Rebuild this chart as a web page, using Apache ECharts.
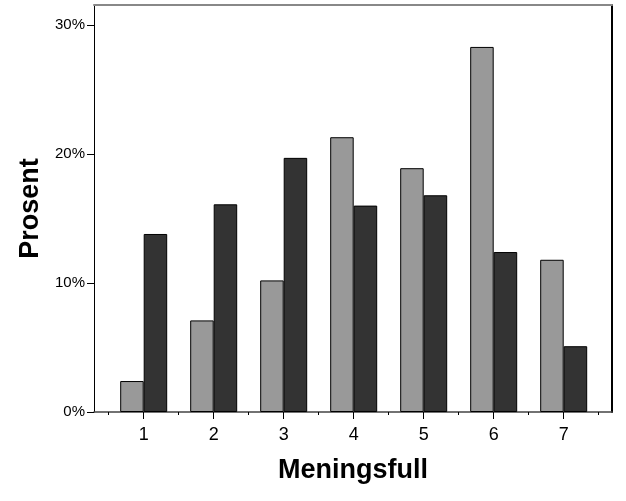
<!DOCTYPE html>
<html>
<head>
<meta charset="utf-8">
<script src="https://cdn.jsdelivr.net/npm/echarts@6/dist/echarts.min.js"></script>
<style>html,body{margin:0;padding:0;background:#fff}#c{width:626px;height:501px}</style>
</head>
<body>
<div id="c"></div>
<script>
const categories = ['1', '2', '3', '4', '5', '6', '7'];
const seriesGray = [2.4, 7.1, 10.2, 21.3, 18.9, 28.3, 11.8];
const seriesDark = [13.8, 16.1, 19.7, 16.0, 16.8, 12.4, 5.1];
const yTicks = [0, 10, 20, 30];

const FONT = '"Liberation Sans", Arial, sans-serif';
const chart = echarts.init(document.getElementById('c'));
const hidden = { show: false };
chart.setOption({
  animation: false,
  backgroundColor: '#fff',
  grid: [
    { left: 108.7, right: 27.3, top: 25, bottom: 89 },
    { left: 94, right: 14, top: 5, bottom: 89 }
  ],
  xAxis: [
    { type: 'category', gridIndex: 0, data: categories, position: 'bottom',
      axisLine: hidden, axisLabel: hidden,
      axisTick: { show: true, length: 3, alignWithLabel: false, lineStyle: { color: '#000' } } },
    { type: 'category', gridIndex: 0, data: categories, position: 'bottom',
      axisLine: hidden,
      axisTick: { show: true, length: 7, alignWithLabel: true, lineStyle: { color: '#000' } },
      axisLabel: { color: '#000', fontSize: 18, fontFamily: FONT, margin: 14 } },
    { type: 'value', gridIndex: 1, min: 0, max: 1, position: 'bottom',
      axisLine: { show: true, onZero: false, lineStyle: { color: '#444', width: 1.5 } },
      axisTick: hidden, axisLabel: hidden, splitLine: hidden,
      name: 'Meningsfull', nameLocation: 'middle', nameGap: 45,
      nameTextStyle: { color: '#000', fontSize: 27, fontWeight: 'bold', fontFamily: FONT } },
    { type: 'value', gridIndex: 1, min: 0, max: 1, position: 'top',
      axisLine: { show: true, onZero: false, lineStyle: { color: '#888', width: 2 } },
      axisTick: hidden, axisLabel: hidden, splitLine: hidden }
  ],
  yAxis: [
    { type: 'value', gridIndex: 0, min: yTicks[0], max: yTicks[yTicks.length - 1], interval: 10,
      position: 'left', offset: 14.7,
      axisLine: hidden, splitLine: hidden,
      axisTick: { show: true, length: 7, lineStyle: { color: '#000' } },
      axisLabel: { color: '#000', fontSize: 15, fontFamily: FONT, margin: 9, formatter: '{value}%' } },
    { type: 'value', gridIndex: 1, min: 0, max: 1, position: 'left',
      axisLine: { show: true, onZero: false, lineStyle: { color: '#000', width: 1 } },
      axisTick: hidden, axisLabel: hidden, splitLine: hidden,
      name: 'Prosent', nameLocation: 'middle', nameGap: 50,
      nameTextStyle: { color: '#000', fontSize: 27, fontWeight: 'bold', fontFamily: FONT } },
    { type: 'value', gridIndex: 1, min: 0, max: 1, position: 'right',
      axisLine: { show: true, onZero: false, lineStyle: { color: '#000', width: 2 } },
      axisTick: hidden, axisLabel: hidden, splitLine: hidden }
  ],
  series: [
    { type: 'bar', xAxisIndex: 0, yAxisIndex: 0, data: seriesGray, barWidth: 23.5, barGap: '0%',
      itemStyle: { color: '#999999', borderColor: '#000', borderWidth: 1 } },
    { type: 'bar', xAxisIndex: 0, yAxisIndex: 0, data: seriesDark, barWidth: 23.5, barGap: '0%',
      itemStyle: { color: '#333333', borderColor: '#000', borderWidth: 1 } }
  ]
});
</script>
</body>
</html>
